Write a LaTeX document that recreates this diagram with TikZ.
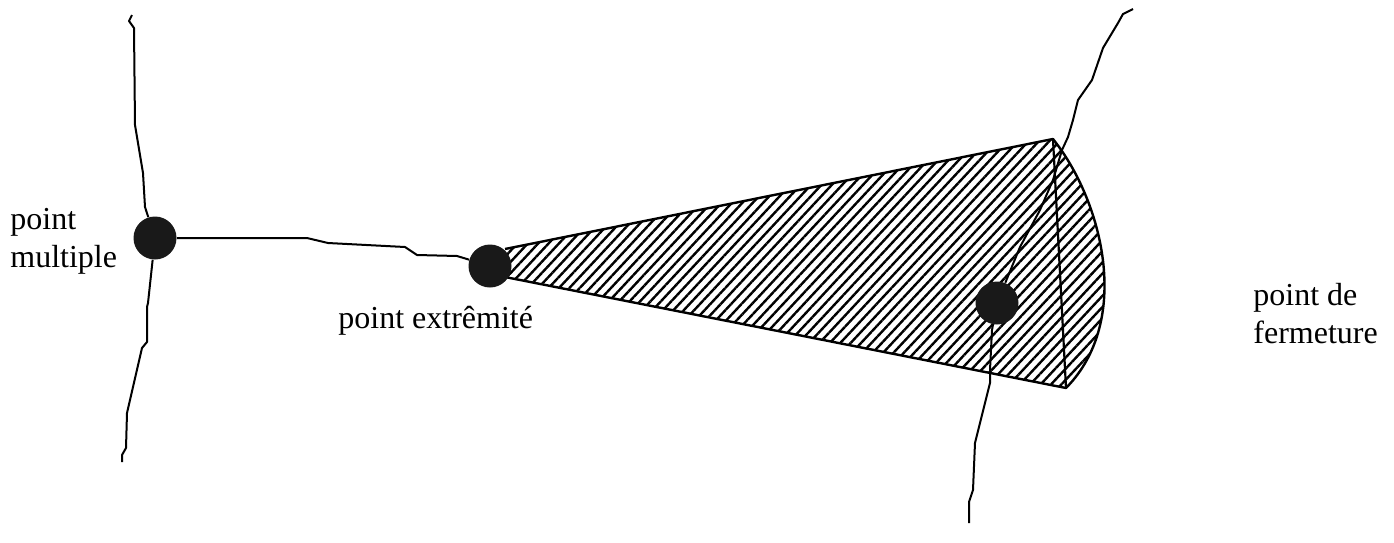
\documentclass[tikz,border=0pt]{standalone}
\usepackage{fontspec}
\setmainfont{Liberation Serif}
\usetikzlibrary{patterns.meta}

\tikzset{
  pnt/.style={circle,fill=black!90,draw=none,inner sep=0pt,minimum size=21.5pt},
  lbl/.style={align=left,inner sep=0pt,font=\fontsize{16}{19}\selectfont},
  crack/.style={line width=1pt,line join=round},
  hatch/.style={pattern={Lines[angle=47,distance=3.8pt,line width=1.2pt]}}
}

\begin{document}
\begin{tikzpicture}[x=0.5pt,y=-0.5pt]
        \useasboundingbox (0,0) rectangle (1394,542);
        % zone hachuree
        \fill[hatch] (500,250) -- (1053,139) .. controls (1102,200) and (1133,320) .. (1066,388) -- (500,275) -- cycle;
        \draw[line width=1.2pt,line join=round] (505,249) -- (1053,139) .. controls (1102,200) and (1133,320) .. (1066,388) -- (505,277);
        \draw[line width=1.1pt] (1053,139) -- (1066,388);

        \node[pnt] (mult) at (155,238) {};
        \node[pnt] (extr) at (490,266) {};
        \node[pnt] (ferm) at (997,303) {};

        \coordinate (mtop) at (132,15);
        \coordinate (mbot) at (122,462);
        \coordinate (ftop) at (1133,9);
        \coordinate (fbot) at (969,523);

        \draw[crack] (mtop) -- (129,21) -- (134,28) -- (135,125) -- (143,173) -- (145,207) -- (mult);
        \draw[crack] (mult) -- (148,303) -- (147,307) -- (147,342) -- (142,348) -- (127,413) -- (126,448) -- (122,455) -- (mbot);
        \draw[crack] (mult) -- (307,238) -- (328,243) -- (405,247) -- (417,255) -- (457,256) -- (extr);
        \draw[crack] (ftop) -- (1123,14) -- (1118,23) -- (1103,48) -- (1092,80) -- (1078,100) -- (1073,120) -- (1068,137) -- (1062,150) -- (1053,180) -- (1040,210) -- (1020,247) -- (ferm);
        \draw[crack] (ferm) -- (992,330) -- (990,370) -- (990,383) -- (975,443) -- (973,490) -- (969,502) -- (fbot);

        \node[lbl,anchor=base west] (lmult) at (10,267) {point\\multiple};
        \node[lbl,anchor=base west] (lextr) at (338,328) {point extrêmité};
        \node[lbl,anchor=base west] (lferm) at (1253,343) {point de\\fermeture};
\end{tikzpicture}
\end{document}
